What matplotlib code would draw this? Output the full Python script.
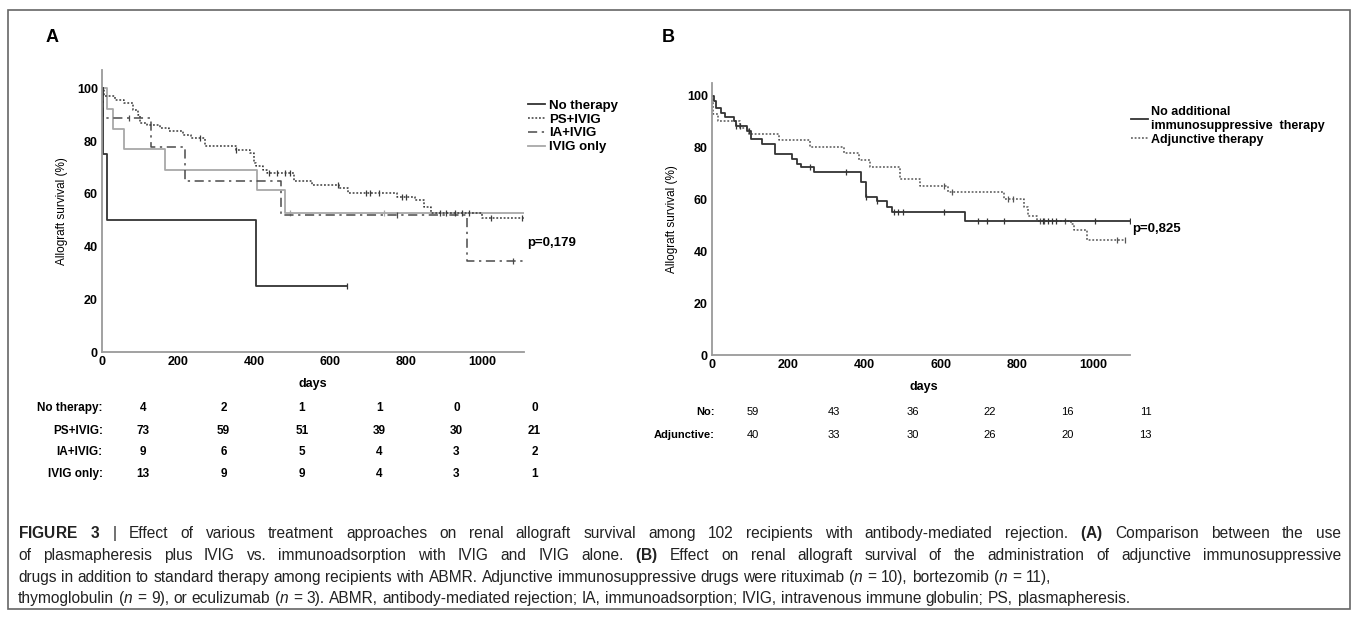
import numpy as np
import matplotlib
matplotlib.use("Agg")
import matplotlib.pyplot as plt
from matplotlib import transforms
from matplotlib.lines import Line2D
from matplotlib.patches import Rectangle
from matplotlib import font_manager as fm

names = {f.name for f in fm.fontManager.ttflist}
NARROW = "Liberation Sans Narrow" if "Liberation Sans Narrow" in names else "Liberation Sans"

plt.rcParams["font.family"] = ["Liberation Sans", "DejaVu Sans"]
plt.rcParams["mathtext.fontset"] = "custom"
plt.rcParams["mathtext.rm"] = "Liberation Sans"
plt.rcParams["mathtext.bf"] = "Liberation Sans:bold"
plt.rcParams["mathtext.it"] = "Liberation Sans:italic"

# ---- panel A data ----
none_days = [0, 2, 12, 406, 645]
none_surv = [100, 75, 50, 25, 25]
none_cens = [645]

ps_days = [0, 6, 35, 59, 82, 94, 100, 118, 153, 176, 212, 235, 271, 353, 388, 400,
           406, 424, 435, 506, 553, 624, 647, 776, 824, 847, 865, 1000, 1110]
ps_surv = [100, 97.0, 95.7, 94.4, 91.9, 90.0, 86.8, 86.2, 84.9, 83.7, 82.4, 81.1, 78.0,
           76.7, 75.4, 71.6, 70.4, 69.1, 67.8, 64.7, 63.4, 62.2, 60.3, 59.0, 57.7, 55.2,
           52.7, 50.8, 50.8]
ps_cens = [259, 353, 440, 459, 482, 494, 620, 694, 706, 729, 788, 800, 888, 906, 929,
           947, 965, 1024, 1106]

ia_days = [0, 2, 129, 218, 470, 959, 1110]
ia_surv = [100, 88.9, 77.8, 64.8, 51.9, 34.6, 34.6]
ia_cens = [71, 776, 1082]

ivig_days = [0, 12, 29, 59, 165, 408, 482, 1110]
ivig_surv = [100, 92.3, 84.6, 76.9, 69.2, 61.5, 52.7, 52.7]
ivig_cens = [494, 741]

risk_A_labels = ["No therapy:", "PS+IVIG:", "IA+IVIG:", "IVIG only:"]
risk_A = [[4, 2, 1, 1, 0, 0],
          [73, 59, 51, 39, 30, 21],
          [9, 6, 5, 4, 3, 2],
          [13, 9, 9, 4, 3, 1]]

# ---- panel B data ----
noadd_days = [0, 6, 11, 23, 34, 57, 63, 91, 102, 131, 165, 210, 222, 233, 267, 392, 403,
              432, 460, 472, 665, 1097]
noadd_surv = [100, 98.1, 95.5, 93.6, 91.7, 90.4, 88.5, 86.5, 83.3, 81.4, 77.6, 75.6, 73.7,
              72.4, 70.5, 66.7, 60.9, 59.6, 57.1, 55.1, 51.9, 51.9]
noadd_cens = [63, 74, 97, 256, 352, 403, 432, 477, 489, 500, 610, 699, 722, 767, 869, 881,
              892, 903, 1006, 1097]

adj_days = [0, 3, 17, 74, 97, 176, 256, 347, 386, 415, 494, 545, 619, 767, 818, 830, 852,
            943, 949, 983, 1085]
adj_surv = [100, 92.9, 90.4, 87.8, 85.3, 82.9, 80.4, 77.8, 75.3, 72.7, 67.9, 65.4, 62.8,
            60.3, 57.1, 53.8, 51.9, 50.6, 48.1, 44.5, 44.5]
adj_cens = [608, 631, 778, 790, 860, 872, 926, 1063, 1085]

risk_B_labels = ["No:", "Adjunctive:"]
risk_B = [[59, 43, 36, 22, 16, 11],
          [40, 33, 30, 26, 20, 13]]

risk_days = [108, 320, 526, 730, 932, 1138]
x_ticks = [0, 200, 400, 600, 800, 1000]
y_ticks = [0, 20, 40, 60, 80, 100]

W, H = 1358, 619
fig = plt.figure(figsize=(W / 100, H / 100), dpi=100)


def px_axes(l, t, r, b):
    return fig.add_axes([l / W, 1 - b / H, (r - l) / W, (b - t) / H])


def style(ax, xmax, ymax):
    ax.set_xlim(0, xmax)
    ax.set_ylim(0, ymax)
    for s in ["top", "right"]:
        ax.spines[s].set_visible(False)
    for s in ["left", "bottom"]:
        ax.spines[s].set_color("#9a9a9a")
        ax.spines[s].set_linewidth(1.3)
    ax.set_xticks(x_ticks)
    ax.set_yticks(y_ticks)
    ax.tick_params(length=0, labelsize=9, pad=3)
    for lab in ax.get_xticklabels() + ax.get_yticklabels():
        lab.set_fontfamily(NARROW)
        lab.set_fontweight("bold")
    ax.set_ylabel("Allograft survival (%)", fontsize=8.5, family=NARROW, labelpad=6)


def km(ax, days, surv, cens, **kw):
    ax.step(days, surv, where="post", **kw)
    d = np.array(days)
    cy = [surv[np.searchsorted(d, c, side="right") - 1] for c in cens]
    ax.plot(cens, cy, ls="none", marker="|", ms=5, mew=0.9, color=kw["color"])


DOT = (0, (1.2, 1.2))
DASHDOT = (0, (6, 3, 1.5, 3))

# ---- panel A ----
axA = px_axes(102, 70, 524, 352)
style(axA, 1110, 107)
km(axA, ivig_days, ivig_surv, ivig_cens, color="#a8a8a8", lw=1.3)
km(axA, ia_days, ia_surv, ia_cens, color="#4a4a4a", lw=1.1, ls=DASHDOT)
km(axA, ps_days, ps_surv, ps_cens, color="#3a3a3a", lw=1.1, ls=DOT)
km(axA, none_days, none_surv, none_cens, color="#333333", lw=1.3)

handlesA = [Line2D([], [], color="#333333", lw=1.3),
            Line2D([], [], color="#3a3a3a", lw=1.1, ls=DOT),
            Line2D([], [], color="#4a4a4a", lw=1.1, ls=DASHDOT),
            Line2D([], [], color="#a8a8a8", lw=1.3)]
fig.legend(handlesA, ["No therapy", "PS+IVIG", "IA+IVIG", "IVIG only"],
           loc="upper left", bbox_to_anchor=(521 / W, 1 - 93 / H), frameon=False,
           handlelength=1.3, handletextpad=0.3, labelspacing=0.12, borderpad=0,
           prop={"family": NARROW, "weight": "bold", "size": 9.5})
fig.text(527 / W, 1 - 243 / H, "p=0,179", fontsize=9.5, family=NARROW,
         weight="bold", va="center")

# ---- panel B ----
axB = px_axes(712, 83, 1130, 355)
style(axB, 1097, 105)
km(axB, adj_days, adj_surv, adj_cens, color="#555555", lw=1.1, ls=DOT)
km(axB, noadd_days, noadd_surv, noadd_cens, color="#333333", lw=1.3)

handlesB = [Line2D([], [], color="#333333", lw=1.3),
            Line2D([], [], color="#555555", lw=1.1, ls=DOT)]
fig.legend(handlesB, ["No additional\nimmunosuppressive  therapy", "Adjunctive therapy"],
           loc="upper left", bbox_to_anchor=(1125 / W, 1 - 100 / H), frameon=False,
           handlelength=1.3, handletextpad=0.3, labelspacing=0.12, borderpad=0,
           prop={"family": NARROW, "weight": "bold", "size": 9})
fig.text(1132 / W, 1 - 229 / H, "p=0,825", fontsize=9.5, family=NARROW,
         weight="bold", va="center")

# ---- days labels and numbers at risk ----
for ax, ydays in [(axA, 384), (axB, 387)]:
    tr = transforms.blended_transform_factory(ax.transData, fig.transFigure)
    ax.text(555, 1 - ydays / H, "days", transform=tr, ha="center", va="center",
            fontsize=9, family=NARROW, weight="bold")

trA = transforms.blended_transform_factory(axA.transData, fig.transFigure)
for row, (lab, vals) in enumerate(zip(risk_A_labels, risk_A)):
    y = 1 - [408, 431, 452, 474][row] / H
    axA.text(2, y, lab, transform=trA, ha="right", va="center", fontsize=8.5,
             family=NARROW, weight="bold", clip_on=False)
    for d, v in zip(risk_days, vals):
        axA.text(d, y, str(v), transform=trA, ha="center", va="center", fontsize=8.5,
                 family=NARROW, weight="bold", clip_on=False)

trB = transforms.blended_transform_factory(axB.transData, fig.transFigure)
for row, (lab, vals) in enumerate(zip(risk_B_labels, risk_B)):
    y = 1 - [412, 435][row] / H
    axB.text(6, y, lab, transform=trB, ha="right", va="center", fontsize=8,
             family=NARROW, weight="bold", clip_on=False)
    for d, v in zip(risk_days, vals):
        axB.text(d, y, str(v), transform=trB, ha="center", va="center", fontsize=8,
                 family=NARROW, clip_on=False)

# ---- panel letters ----
fig.text(52 / W, 1 - 38 / H, "A", fontsize=13, weight="bold", ha="center", va="center")
fig.text(668 / W, 1 - 38 / H, "B", fontsize=13, weight="bold", ha="center", va="center")

# ---- outer frame ----
fig.add_artist(Rectangle((8 / W, 1 - 609 / H), (1350 - 8) / W, (609 - 10) / H,
                         transform=fig.transFigure, fill=False, ec="#666666", lw=1.2))

# ---- caption (first two lines justified like the journal layout) ----
caption = [
    r"$\mathbf{FIGURE}$ $\mathbf{3}$ | Effect of various treatment approaches on renal allograft survival among 102 recipients with antibody-mediated rejection. $\mathbf{(A)}$ Comparison between the use",
    r"of plasmapheresis plus IVIG vs. immunoadsorption with IVIG and IVIG alone. $\mathbf{(B)}$ Effect on renal allograft survival of the administration of adjunctive immunosuppressive",
    r"drugs in addition to standard therapy among recipients with ABMR. Adjunctive immunosuppressive drugs were rituximab ($\mathit{n}$ = 10), bortezomib ($\mathit{n}$ = 11),",
    r"thymoglobulin ($\mathit{n}$ = 9), or eculizumab ($\mathit{n}$ = 3). ABMR, antibody-mediated rejection; IA, immunoadsorption; IVIG, intravenous immune globulin; PS, plasmapheresis.",
]
justify = [True, True, False, False]
cap_base = [538, 560, 582, 603]
cap_left, cap_right = 18, 1341
cap_size = 11.2
renderer = fig.canvas.get_renderer()

probe = fig.text(0, 0, "a a", fontsize=cap_size)
w_aa = probe.get_window_extent(renderer).width
probe.set_text("aa")
space_w = w_aa - probe.get_window_extent(renderer).width
probe.remove()

for line, y, just in zip(caption, cap_base, justify):
    words = line.split(" ")
    arts, widths = [], []
    for w in words:
        t = fig.text(0, 1 - y / H, w, fontsize=cap_size, color="#222222", va="baseline")
        arts.append(t)
        widths.append(t.get_window_extent(renderer).width)
    gap = (cap_right - cap_left - sum(widths)) / (len(words) - 1) if just else space_w
    x = cap_left
    for t, w in zip(arts, widths):
        t.set_x(x / W)
        x += w + gap

fig.savefig("out.png", dpi=100)
